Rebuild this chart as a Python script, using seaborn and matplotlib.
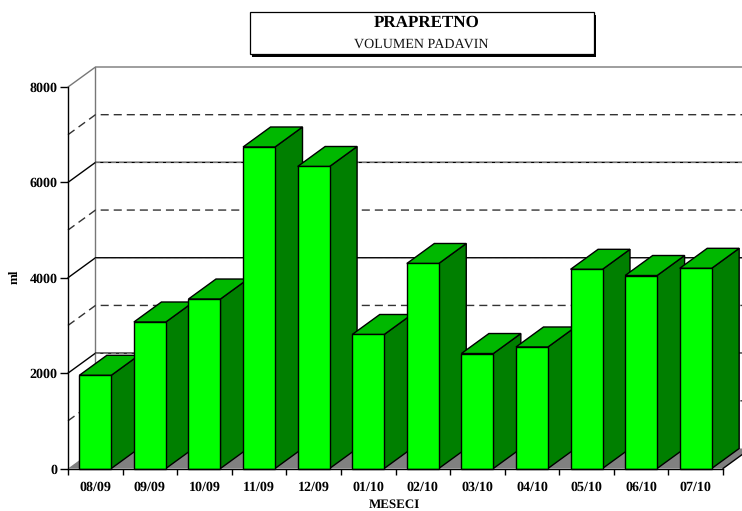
"""Prapretno rainfall volume as a fake-3D bar chart."""

import matplotlib
matplotlib.use('Agg')
import matplotlib.pyplot as plt
from matplotlib.patches import Polygon, Rectangle
import seaborn as sns
import pandas as pd

months = ['08/09', '09/09', '10/09', '11/09', '12/09', '01/10',
          '02/10', '03/10', '04/10', '05/10', '06/10', '07/10']
volumes = [1954, 3072, 3554, 6742, 6333, 2810, 4299, 2411, 2548, 4177, 4047, 4198]
major_levels = [0, 2000, 4000, 6000, 8000]
minor_levels = [1000, 3000, 5000, 7000]

W, H = 742, 511
FRONT, SIDE, TOP = '#00FF00', '#007F00', '#00B800'
SERIF = 'Liberation Serif'

sns.set_theme(style='white')
plt.rcParams['font.family'] = [SERIF, 'DejaVu Serif']
plt.rcParams['text.hinting'] = 'no_hinting'
plt.rcParams['text.hinting_factor'] = 1

fig = plt.figure(figsize=(W / 100, H / 100), dpi=100, facecolor='white')
ax = fig.add_axes([68 / W, 1 - 468.5 / H, 655 / W, 381.5 / H])

df = pd.DataFrame({'month': months, 'volume': volumes})
sns.barplot(data=df, x='month', y='volume', color=FRONT, saturation=1, width=0.585,
            edgecolor='black', linewidth=1, ax=ax)
ax.set_xlim(-0.5, 11.5)
ax.set_ylim(0, 8000)

# depth of the fake 3D box, in data units
DX = 27.5 / (655 / 12)
DY = 20 / (381.5 / 8000)
x0, x1 = -0.5, 11.5
dash = (0, (5.8, 3.6))

# floor and walls
ax.add_patch(Polygon([(x0, 0), (x0 + DX, DY), (x1 + DX, DY), (x1, 0)], closed=True,
                     facecolor='#808080', edgecolor='none', zorder=1, clip_on=False))
ax.plot([x1, x1 + DX], [0, DY], color='black', lw=1, zorder=2, clip_on=False)
ax.plot([x0 + DX, x0 + DX], [DY, 8000 + DY], color='#777777', lw=1, zorder=2, clip_on=False)

for level in major_levels[1:]:
    xs = [x0, x0 + DX, x1 + DX]
    ys = [level, level + DY, level + DY]
    if level == 8000:
        ax.plot(xs, ys, color='#777777', lw=1, zorder=2, clip_on=False)
    else:
        ax.plot(xs, ys, color='black', lw=1, zorder=2, clip_on=False)
        ax.plot(xs[1:], ys[1:], color='#888888', lw=0.6, ls=dash, zorder=2, clip_on=False)

for level in minor_levels:
    ax.plot([x0, x0 + DX, x1 + DX], [level, level + DY, level + DY], color='#333333',
            lw=1, ls=dash, zorder=2, clip_on=False)

# side and top faces, left to right so the next bar covers the previous one
for i, bar in enumerate(ax.patches[:len(months)]):
    left, w, h = bar.get_x(), bar.get_width(), bar.get_height()
    right = left + w
    ax.add_patch(Polygon([(right, 0), (right + DX, DY), (right + DX, h + DY), (right, h)],
                         closed=True, facecolor=SIDE, edgecolor='black', lw=1,
                         zorder=3 + i, clip_on=False))
    ax.add_patch(Polygon([(left, h), (left + DX, h + DY), (right + DX, h + DY), (right, h)],
                         closed=True, facecolor=TOP, edgecolor='black', lw=1,
                         zorder=3 + i, clip_on=False))
    bar.set_zorder(3.5 + i)
    bar.set_clip_on(False)

sns.despine(ax=ax, top=True, right=True)
for side in ('left', 'bottom'):
    ax.spines[side].set_color('black')
    ax.spines[side].set_linewidth(1)
    ax.spines[side].set_zorder(30)

ax.set_yticks(major_levels)
ax.set_yticklabels([str(v) for v in major_levels], fontsize=10, fontweight='bold', color='black')
ax.set_xticks(range(len(months)))
ax.set_xticklabels(months, fontsize=10, fontweight='bold', color='black')
ax.set_xticks([i - 0.5 for i in range(len(months) + 1)], minor=True)
ax.tick_params(axis='y', which='major', left=True, length=5.8, width=1, color='black', pad=1.5)
ax.tick_params(axis='x', which='major', bottom=False, pad=3.2)
ax.tick_params(axis='x', which='minor', bottom=True, length=4.5, width=1, color='black')
ax.set_xlabel('')
ax.set_ylabel('')

fig.text(15 / W, 1 - 277 / H, 'ml', rotation=90, ha='center', va='center',
         fontsize=9.5, fontweight='bold', color='black')
fig.text(394.5 / W, 1 - 505 / H, 'MESECI', ha='center', va='center',
         fontsize=9.7, fontweight='bold', color='black')

# title box with drop shadow
fig.add_artist(Rectangle((252 / W, 1 - 57 / H), 344 / W, 42 / H, transform=fig.transFigure,
                         facecolor='black', edgecolor='none'))
fig.add_artist(Rectangle((249.5 / W, 1 - 54.5 / H), 344 / W, 42.5 / H, transform=fig.transFigure,
                         facecolor='white', edgecolor='black', lw=0.9))
fig.text(426.5 / W, 1 - 23 / H, 'PRAPRETNO', ha='center', va='center',
         fontsize=12.4, fontweight='bold', color='black')
fig.text(421.5 / W, 1 - 44 / H, 'VOLUMEN PADAVIN', ha='center', va='center',
         fontsize=10.2, color='#111111')

fig.savefig('out.png', dpi=100)
